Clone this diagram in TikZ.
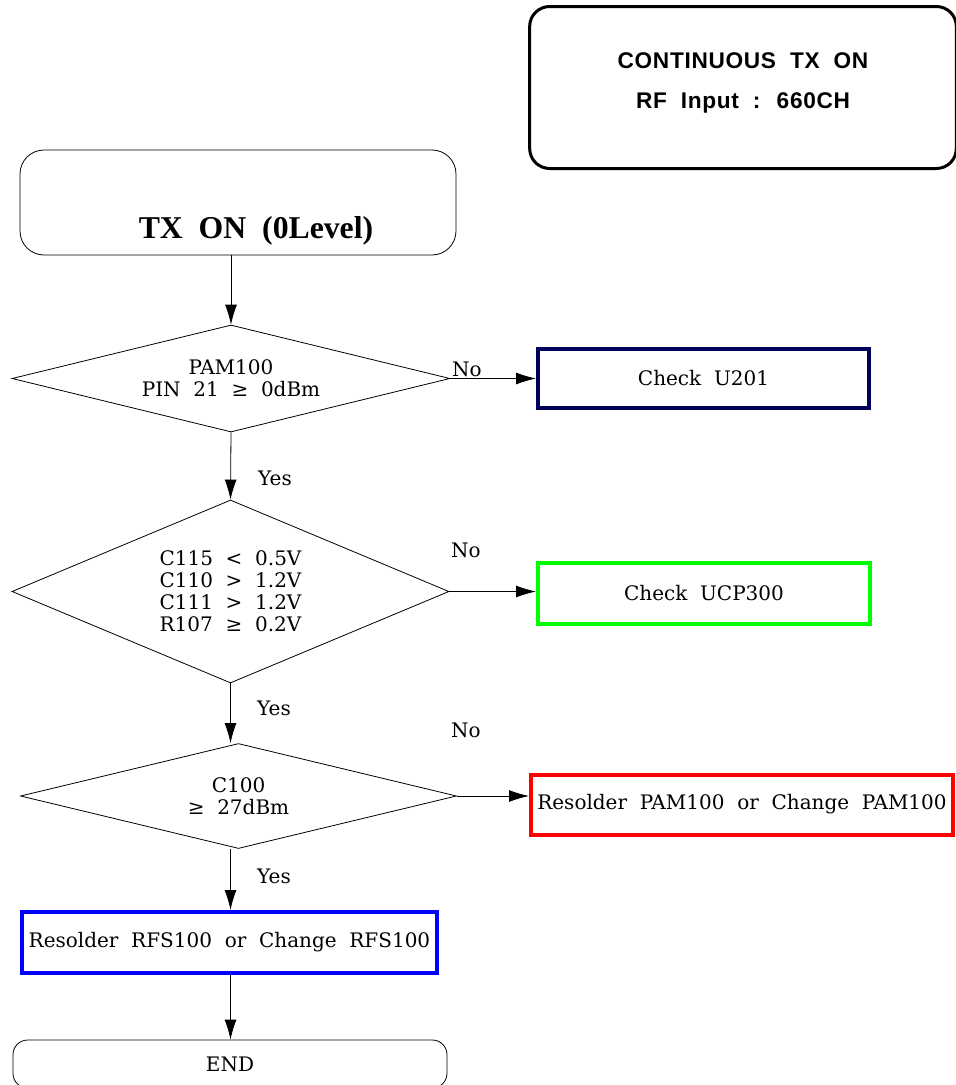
\documentclass[tikz,border=0pt]{standalone}
\usepackage{fontspec}
\newfontfamily\panelsans[LetterSpace=3]{Liberation Sans}
\newfontfamily\titleserif{Liberation Serif}
\newfontfamily\bodyserif{DejaVu Serif}
\usepackage{tikz}
\usetikzlibrary{arrows.meta, shapes.geometric, positioning}

\definecolor{navyline}{RGB}{0,0,90}
\definecolor{greenline}{RGB}{0,255,0}
\definecolor{redline}{RGB}{255,0,0}
\definecolor{blueline}{RGB}{0,0,255}

\begin{document}
\begin{tikzpicture}[
    x=0.75pt, y=-0.75pt,
    >={Latex[length=15pt, width=9pt]},
    txt/.style={font=\bodyserif\fontsize{15}{16.5}\selectfont, align=center},
    decision/.style={diamond, draw, line width=0.6pt, inner sep=0pt, txt},
    fixbox/.style={rectangle, draw, line width=3pt, inner sep=0pt, txt},
    lbl/.style={font=\bodyserif\fontsize{15}{15}\selectfont, inner sep=0pt}
]

    \useasboundingbox (0,0) rectangle (956,1085);

    % 1. Test condition panel
    \node[
        draw, rounded corners=15pt, line width=2.25pt,
        minimum width=320pt, minimum height=121.5pt, align=center,
        font=\panelsans\bfseries\fontsize{17}{30}\selectfont
    ] (cond) at (743,87.5)
        {CONTINUOUS~ TX~ ON\\RF~ Input~ :~ 660CH\\[-19pt]\mbox{}};

    % 2. Start block
    \node[
        draw, rounded corners=18pt, line width=0.6pt,
        minimum width=327pt, inner sep=0pt,
        text height=66pt, text depth=12.75pt,
        font=\titleserif\bfseries\fontsize{23.8}{26}\selectfont
    ] (start) at (238,202.5)
        {\hspace*{27pt}TX~ ON~ (0Level)};

    % 3. Decisions
    \node[decision, aspect=4, minimum width=328.5pt, minimum height=80.25pt]
        (pin) at (231,378.5)
        {PAM100\\PIN~ 21~ ≥~ 0dBm};

    \node[decision, aspect=2.4, minimum width=327.75pt, minimum height=137.25pt]
        (volt) at (230.5,591.5)
        {C115~ <~ 0.5V\\C110~ >~ 1.2V\\C111~ >~ 1.2V\\R107~ ≥~ 0.2V};

    \node[decision, aspect=4, minimum width=327pt, minimum height=78.75pt]
        (pwr) at (238.5,796)
        {C100\\≥~ 27dBm};

    % 4. Repair actions
    \node[fixbox, draw=navyline, minimum width=248.25pt, minimum height=44.25pt]
        (u201) at (703.5,378.5) {Check~ U201};

    \node[fixbox, draw=greenline, minimum width=249pt, minimum height=45.75pt]
        (ucp) at (704,593.5) {Check~ UCP300};

    \node[fixbox, draw=redline, minimum width=316.5pt, minimum height=45pt]
        (pam) at (742,804.5) {Resolder~ PAM100~ or~ Change~ PAM100};

    \node[fixbox, draw=blueline, minimum width=311.25pt, minimum height=45.75pt]
        (rfs) at (229.5,942.5) {Resolder~ RFS100~ or~ Change~ RFS100};

    % 5. End block
    \node[draw, rounded corners=11pt, line width=0.6pt,
        minimum width=325.5pt, minimum height=36pt, txt]
        (finish) at (230,1064) {END};

    % 6. Yes / No labels
    \node[lbl] (no1) at (467,369) {No};
    \node[lbl] (yes1) at (275,478) {Yes};
    \node[lbl] (no2) at (466,550) {No};
    \node[lbl] (yes2) at (274,708) {Yes};
    \node[lbl] (no3) at (466,730) {No};
    \node[lbl] (yes3) at (274,876) {Yes};

    % 7. Connectors
    \draw[->, line width=0.6pt] (pin.north |- start.south) -- (pin.north);
    \draw[->, line width=0.6pt] (pin.south) -- (volt.north);
    \draw[->, line width=0.6pt] (volt.south) -- (volt.south |- pwr.north);
    \draw[->, line width=0.6pt] (volt.south |- pwr.south) -- (volt.south |- rfs.north);
    \draw[->, line width=0.6pt] (volt.south |- rfs.south) -- (volt.south |- finish.north);

    \draw[->, line width=0.6pt] (pin.east) -- (u201.west);
    \draw[->, line width=0.6pt] (volt.east) -- (volt.east -| ucp.west);
    \draw[->, line width=0.6pt] (pwr.east) -- (pwr.east -| pam.west);

\end{tikzpicture}
\end{document}
